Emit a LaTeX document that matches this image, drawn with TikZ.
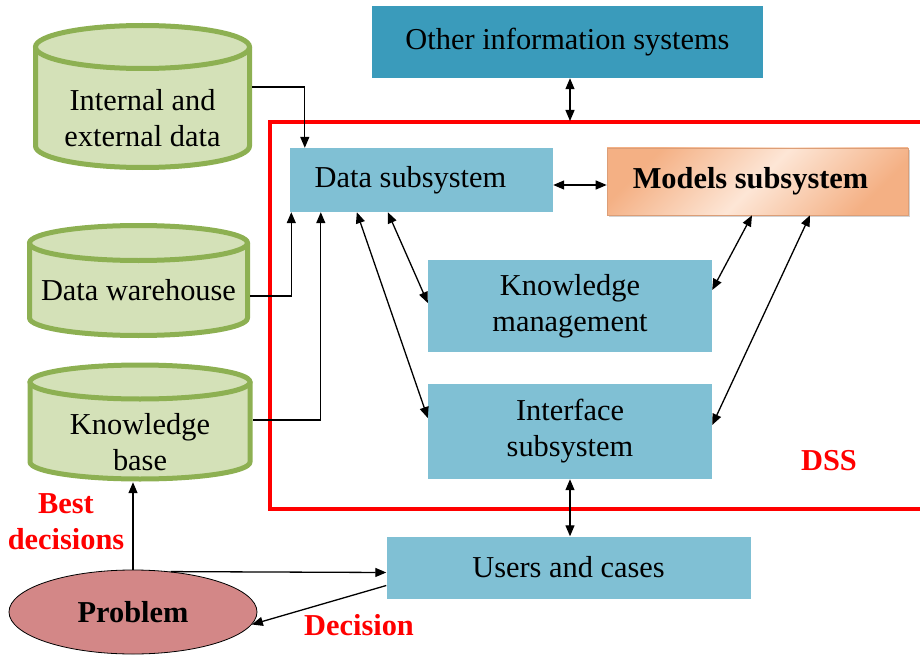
\documentclass[tikz,border=0pt]{standalone}
\usepackage{fontspec}
\setmainfont{Liberation Serif}
\usetikzlibrary{arrows.meta,shapes.geometric,shadows}
\definecolor{boxblue}{HTML}{80C0D4}
\definecolor{darkteal}{HTML}{3A9BBB}
\definecolor{cylfill}{HTML}{D4E1B8}
\definecolor{cylline}{HTML}{8DB052}
\definecolor{probfill}{HTML}{D38787}
\definecolor{orangeA}{HTML}{F4B084}
\definecolor{orangeB}{HTML}{FDE6D6}
\newcommand{\drawcyl}[5]{%
  \filldraw[fill=cylfill, draw=cylline, line width=5bp, line join=round]
    (#1-#4,#2) -- (#1-#4,#3) arc[start angle=180,end angle=0,x radius=#4,y radius=#5] -- (#1+#4,#2) -- cycle;
  \filldraw[fill=cylfill, draw=cylline, line width=5bp] (#1,#2) ellipse[x radius=#4, y radius=#5];
}
\begin{document}
\begin{tikzpicture}[x=1bp,y=-1bp,
  every node/.style={font=\fontsize{30.5}{36}\selectfont, align=center, inner sep=0pt},
  bluebox/.style={fill=boxblue, draw=none},
  cyltext/.style={minimum height=40bp},
  arr/.style={line width=1.3bp, -{Triangle[length=11bp,width=9bp]}},
  darr/.style={line width=1.3bp, {Triangle[length=11bp,width=9bp]}-{Triangle[length=11bp,width=9bp]}},
  redlbl/.style={text=red, font=\fontsize{30.5}{36}\selectfont\bfseries},
]
\useasboundingbox (0,0) rectangle (920,659);

% cylinders
\drawcyl{142.5}{47}{146}{107}{21.5}
\drawcyl{138.5}{243}{318}{109}{17.5}
\drawcyl{140}{382}{462}{110}{17}
\node[cyltext, minimum width=219bp] (iedata) at (142.5,118) {Internal and\\external data};
\node[cyltext, minimum width=223bp] (dw) at (138.5,290) {Data warehouse};
\node[cyltext, minimum width=226bp, minimum height=80bp] (kb) at (140,442) {Knowledge\\base};

% DSS border
\draw[red, line width=4.5bp] (930,122) -| (270,509) -- (930,509);
\node[redlbl] (dsslbl) at (829,461) {DSS};

% boxes
\node[fill=darkteal, minimum width=391bp, minimum height=72bp] (other) at (567.5,42) {\raisebox{4bp}{Other information systems}};
\node[bluebox, minimum width=263bp, minimum height=64bp] (data) at (421.5,180) {\hspace*{-22bp}Data subsystem};
\node[top color=orangeA, bottom color=orangeA, middle color=orangeB, shading angle=45,
      draw=orangeA!90!black, line width=0.6bp,
      drop shadow={shadow xshift=2bp, shadow yshift=-2bp, opacity=0.35},
      minimum width=301bp, minimum height=67bp, font=\fontsize{30.5}{36}\selectfont\bfseries] (models) at (757.5,181.5) {\hspace*{-14bp}Models subsystem};
\node[bluebox, minimum width=284bp, minimum height=92bp] (km) at (570,306) {Knowledge\\management};
\node[bluebox, minimum width=284bp, minimum height=95bp] (iface) at (570,431.5) {Interface\\subsystem};
\node[bluebox, minimum width=364bp, minimum height=62bp] (users) at (568.5,567.5) {Users and cases};

% problem
\node[ellipse, fill=probfill, draw=black, line width=0.8bp, minimum width=248bp, minimum height=84bp,
      font=\fontsize{30.5}{36}\selectfont\bfseries] (prob) at (133,612) {Problem};
\node[redlbl] (bestlbl) at (66,522) {Best\\decisions};
\node[redlbl] (declbl) at (359,625) {Decision};

% connectors
\coordinate (dsstop) at (570,121);
\draw[darr] (other.south -| dsstop) -- (dsstop);
\draw[arr] ([yshift=31bp]iedata.east) -| ([xshift=15bp]data.north west);
\draw[arr] ([yshift=-6bp]dw.east) -| ([xshift=1.5bp]data.south west);
\draw[arr] ([yshift=22bp]kb.east) -| ([xshift=31bp]data.south west);
\draw[darr] ([yshift=-5bp]data.east) -- ([yshift=-5bp]data.east -| models.west);
\draw[darr] ([xshift=98bp]data.south west) -- ([yshift=3bp]km.west);
\draw[darr] ([xshift=67bp]data.south west) -- ([yshift=13.5bp]iface.west);
\draw[darr] ([xshift=-5.5bp]models.south) -- ([yshift=16bp]km.east);
\draw[darr] ([xshift=52.5bp]models.south) -- ([yshift=6.5bp]iface.east);
\draw[darr] (iface.south -| dsstop) -- (users.north -| dsstop);
\draw[arr] (prob.north) -- (prob.north |- kb.south);
\draw[arr] (prob.47) -- ([yshift=-5bp]users.west);
\draw[arr] ([yshift=-18bp]users.west) -- (prob.-6);
\end{tikzpicture}
\end{document}
